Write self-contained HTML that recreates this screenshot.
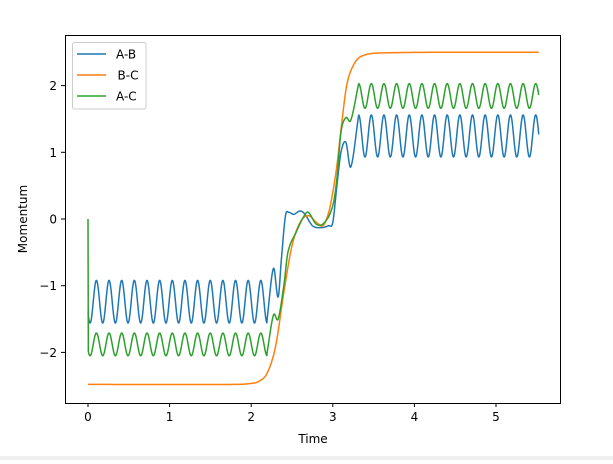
<!DOCTYPE html>
<html><head><style>
body{margin:0;background:#fff;width:613px;height:460px;overflow:hidden;font-family:"DejaVu Sans","Liberation Sans",sans-serif}
</style></head><body>
<svg id="s" width="613" height="460" xmlns="http://www.w3.org/2000/svg" font-family="DejaVu Sans, Liberation Sans, sans-serif" font-size="12">
<rect x="0" y="456" width="613" height="4" fill="#f0f0f0"/>
<g id="lines"></g>
<rect x="65.5" y="35.5" width="495" height="368" fill="none" stroke="#000" stroke-width="1"/>
<g id="ticks" stroke="#000"></g>
<g id="labels" fill="#000" font-size="12"></g>
<text x="313" y="443" text-anchor="middle" font-size="12">Time</text>
<text transform="translate(27,219) rotate(-90)" text-anchor="middle" font-size="12">Momentum</text>
<rect x="72.5" y="42.5" width="73.5" height="66.5" rx="2" fill="#fff" stroke="#ccc"/>
<line x1="77" y1="54" x2="106" y2="54" stroke="#1f77b4" stroke-width="1.5"/>
<line x1="77" y1="75" x2="106" y2="75" stroke="#ff7f0e" stroke-width="1.5"/>
<line x1="77" y1="96" x2="106" y2="96" stroke="#2ca02c" stroke-width="1.5"/>
<text x="116" y="58.5" font-size="12">A-B</text>
<text x="117.5" y="79.5" font-size="12">B-C</text>
<text x="116" y="100.5" font-size="12">A-C</text>
</svg>
<script>
var X=t=>88+t*81.6, Y=v=>219-v*66.7;
var ns="http://www.w3.org/2000/svg";
var tk=document.getElementById('ticks'),lb=document.getElementById('labels');
for(var i=0;i<=5;i++){var x=X(i);tk.innerHTML+='<line x1="'+x+'" y1="403" x2="'+x+'" y2="407"/>';lb.innerHTML+='<text x="'+x+'" y="421" text-anchor="middle">'+i+'</text>';}
for(var v=-2;v<=2;v++){var y=Y(v);tk.innerHTML+='<line x1="61" y1="'+y+'" x2="65" y2="'+y+'"/>';lb.innerHTML+='<text x="57" y="'+(y+4.5)+'" text-anchor="end">'+(v<0?'\u2212'+(-v):v)+'</text>';}
var P=0.155;
function interp(pts,t){for(var i=0;i<pts.length-1;i++){if(t<=pts[i+1][0]){var p0=pts[Math.max(i-1,0)],p1=pts[i],p2=pts[i+1],p3=pts[Math.min(i+2,pts.length-1)];var u=(t-p1[0])/(p2[0]-p1[0]);var m1=(p2[1]-p0[1])/(p2[0]-p0[0]||1)*(p2[0]-p1[0]),m2=(p3[1]-p1[1])/(p3[0]-p1[0]||1)*(p2[0]-p1[0]);if(i==0)m1=p2[1]-p1[1];if(i+2>=pts.length)m2=p2[1]-p1[1];var u2=u*u,u3=u2*u;return (2*u3-3*u2+1)*p1[1]+(u3-2*u2+u)*m1+(-2*u3+3*u2)*p2[1]+(u3-u2)*m2;}}return pts[pts.length-1][1];}
function mk(f,col,start){var d='';var first=true;if(start!==undefined){d='M'+X(0)+','+Y(start);first=false;}
for(var t=start!==undefined?0.004:0;t<=5.527;t+=0.004){d+=(first?'M':'L')+X(t).toFixed(2)+','+Y(f(t)).toFixed(2);first=false;}
var p=document.createElementNS(ns,'path');p.setAttribute('d',d);p.setAttribute('fill','none');p.setAttribute('stroke',col);p.setAttribute('stroke-width','1.5');p.setAttribute('stroke-linejoin','round');document.getElementById('lines').appendChild(p);}
var abM=[[2.195,-1.5],[2.273,-0.74],[2.33,-1.17],[2.37,-0.6],[2.42,0.05],[2.46,0.1],[2.52,0.07],[2.6,0.12],[2.66,0.07],[2.75,-0.1],[2.85,-0.13],[2.95,-0.1],[3.0,-0.05],[3.05,0.5],[3.1,1.0],[3.16,1.15],[3.22,0.78],[3.317,1.56]];
function ab(t){if(t<2.195)return -1.24+0.32*Math.cos(2*Math.PI*(t-0.103)/P);if(t>3.317)return 1.245+0.315*Math.cos(2*Math.PI*(t-3.627)/P);return interp(abM,t);}
var acM=[[2.195,-2.0],[2.273,-1.44],[2.33,-1.5],[2.4,-1.0],[2.45,-0.5],[2.55,-0.2],[2.65,0.05],[2.7,0.1],[2.8,-0.08],[2.9,-0.05],[3.0,0.2],[3.05,0.6],[3.1,1.3],[3.16,1.52],[3.22,1.48],[3.317,2.03]];
function ac(t){if(t<2.195)return -1.88+0.17*Math.cos(2*Math.PI*(t-0.103)/P);if(t>3.317)return 1.845+0.185*Math.cos(2*Math.PI*(t-3.627)/P);return interp(acM,t);}
var bcM=[[0,-2.48],[1.8,-2.48],[2.0,-2.465],[2.1,-2.43],[2.2,-2.3],[2.3,-1.9],[2.4,-1.1],[2.5,-0.4],[2.6,-0.05],[2.7,0.05],[2.8,-0.05],[2.88,-0.1],[2.95,0.1],[3.0,0.4],[3.05,0.8],[3.11,1.44],[3.17,2.0],[3.25,2.3],[3.35,2.44],[3.6,2.49],[5.53,2.5]];
function bc(t){return interp(bcM,t);}
mk(ab,'#1f77b4');mk(bc,'#ff7f0e');mk(ac,'#2ca02c',0);
</script>
</body></html>
